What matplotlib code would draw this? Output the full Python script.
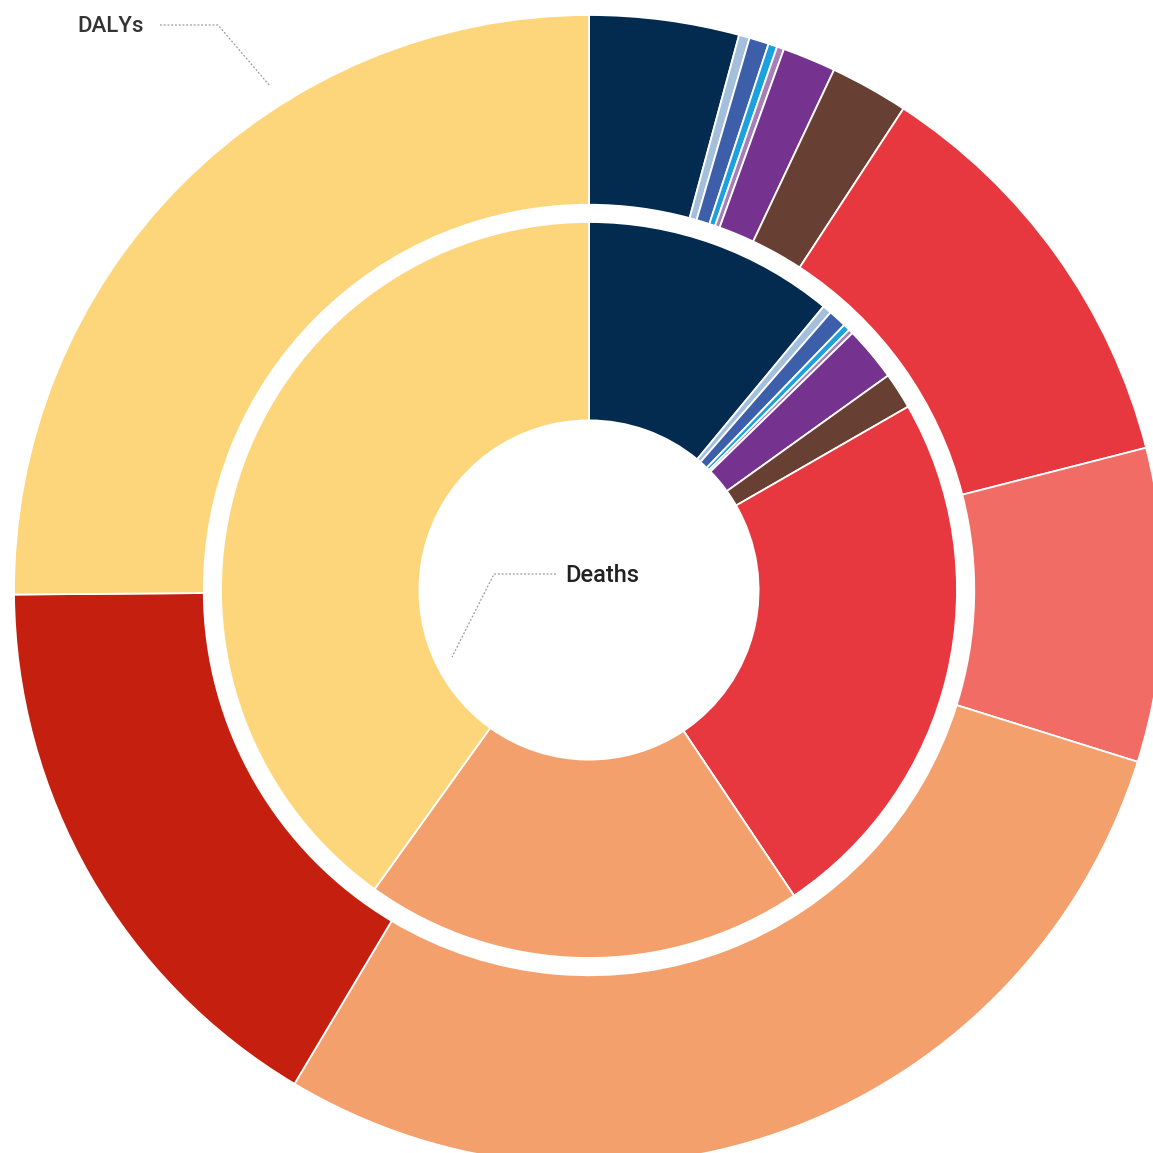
import matplotlib.pyplot as plt

# causes, clockwise from 12 o'clock
causes = ['c1', 'c2', 'c3', 'c4', 'c5', 'c6', 'c7', 'c8', 'c9', 'c10', 'c11', 'c12']
colors = ['#022b4f', '#a3bfdc', '#3d5ea8', '#1ba1dd', '#a77fb8', '#76328f',
          '#673f33', '#e8383f', '#f26c66', '#f4a06d', '#c5200f', '#fdd67b']

# share of total (%)
dalys = [4.2, 0.3, 0.55, 0.25, 0.2, 1.5, 2.2, 11.8, 8.8, 28.7, 16.3, 25.1]
deaths = [11.0, 0.4, 0.8, 0.3, 0.2, 2.4, 1.6, 23.9, 0.0, 19.3, 0.0, 40.1]

fig = plt.figure(figsize=(11.53, 11.53), dpi=100)
ax = fig.add_axes([0, 0, 1, 1])

wp = dict(edgecolor='white', linewidth=1.3)
ax.pie(dalys, colors=colors, radius=1.0, startangle=90, counterclock=False,
       wedgeprops=dict(width=0.33, **wp))
ax.pie(deaths, colors=colors, radius=0.64, startangle=90, counterclock=False,
       wedgeprops=dict(width=0.345, **wp))

# centre at pixel (589, 590), outer radius 575 px
ax.set_xlim(-589/575, (1153-589)/575)
ax.set_ylim(-(1153-590)/575, 590/575)
ax.set_aspect('equal')
ax.axis('off')

def px(x, y):
    return (x-589)/575, (590-y)/575

lead = dict(color='#999999', lw=0.9, ls=(0, (1.5, 1.5)))
xs, ys = zip(px(160, 25), px(218, 25), px(270, 86))
ax.plot(xs, ys, **lead)
ax.text(*px(77, 27), 'DALYs', fontsize=16, color='#333333', family='Roboto',
        weight='medium', ha='left', va='center')

xs, ys = zip(px(556, 574), px(494, 574), px(452, 657))
ax.plot(xs, ys, **lead)
ax.text(*px(565, 576), 'Deaths', fontsize=17, color='#222222', family='Roboto',
        weight='medium', ha='left', va='center')

fig.savefig('out.png', dpi=100)
